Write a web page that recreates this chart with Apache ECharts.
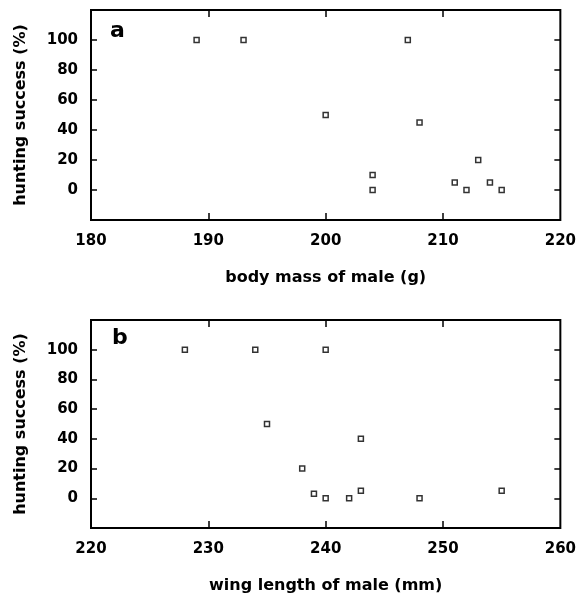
<!DOCTYPE html>
<html>
<head>
<meta charset="utf-8">
<script src="https://cdn.jsdelivr.net/npm/echarts@6/dist/echarts.min.js"></script>
<style>
  html, body { margin: 0; padding: 0; background: #fff; }
  #chart { width: 579px; height: 595px; }
</style>
</head>
<body>
<div id="chart"></div>
<script>
// panel a: body mass vs hunting success
var massA    = [189, 193, 200, 204, 204, 207, 208, 211, 212, 213, 214, 215];
var successA = [100, 100,  50,  10,   0, 100,  45,   5,   0,  20,   5,   0];
// panel b: wing length vs hunting success
var wingB    = [228, 234, 235, 238, 239, 240, 240, 242, 243, 243, 248, 255];
var successB = [100, 100,  50,  20,   3,   0, 100,   0,   5,  40,   0,   5];

var xTicksA = [180, 220, 10];   // min, max, step
var xTicksB = [220, 260, 10];
var yTicks  = [-20, 120, 20];
// inner tick marks (edges are drawn by the frame)
var xInnerA = [190, 200, 210];
var xInnerB = [230, 240, 250];
var yInner  = [0, 20, 40, 60, 80, 100];

var FONT = 'DejaVu Sans';

function pairs(xs, ys) {
    return xs.map(function (x, i) { return [x, ys[i]]; });
}

var chart = echarts.init(document.getElementById('chart'));

function xAxisCfg(grid, t, inner, pos, name) {
    return {
        type: 'value',
        gridIndex: grid,
        position: pos,
        min: t[0], max: t[1], interval: t[2],
        name: name,
        nameLocation: 'middle',
        nameGap: 50,
        nameTextStyle: { fontFamily: FONT, fontWeight: 'bold', fontSize: 16, color: '#000' },
        axisLine: { show: false, onZero: false },
        axisTick: { show: true, inside: true, length: 7, customValues: inner, lineStyle: { color: '#000', width: 1.5 } },
        axisLabel: {
            show: pos === 'bottom',
            margin: 14,
            fontFamily: FONT, fontWeight: 'bold', fontSize: 15, color: '#000',
            showMinLabel: true, showMaxLabel: true
        },
        splitLine: { show: false }
    };
}

function yAxisCfg(grid, pos, name) {
    return {
        type: 'value',
        gridIndex: grid,
        position: pos,
        min: yTicks[0], max: yTicks[1], interval: yTicks[2],
        name: name,
        nameLocation: 'middle',
        nameGap: 62,
        nameTextStyle: { fontFamily: FONT, fontWeight: 'bold', fontSize: 16, color: '#000' },
        axisLine: { show: false, onZero: false },
        axisTick: { show: true, inside: true, length: 6, customValues: yInner, lineStyle: { color: '#000', width: 1.5 } },
        axisLabel: {
            show: pos === 'left',
            margin: 13,
            fontFamily: FONT, fontWeight: 'bold', fontSize: 15, color: '#000',
            formatter: function (v) { return (v < 0 || v > 100) ? '' : v; }
        },
        splitLine: { show: false }
    };
}

function scatter(xi, yi, data) {
    return {
        type: 'scatter',
        xAxisIndex: xi,
        yAxisIndex: yi,
        symbol: 'rect',
        symbolSize: 5,
        itemStyle: { color: '#fff', borderColor: '#000', borderWidth: 1.5 },
        data: data,
        silent: true
    };
}

chart.setOption({
    animation: false,
    backgroundColor: '#fff',
    grid: [
        { left: 91, top: 10, width: 470, height: 210, show: true, borderColor: '#000', borderWidth: 2 },
        { left: 91, top: 320, width: 470, height: 210, show: true, borderColor: '#000', borderWidth: 2 }
    ],
    xAxis: [
        xAxisCfg(0, xTicksA, xInnerA, 'bottom', 'body mass of male (g)'),
        xAxisCfg(0, xTicksA, xInnerA, 'top', ''),
        xAxisCfg(1, xTicksB, xInnerB, 'bottom', 'wing length of male (mm)'),
        xAxisCfg(1, xTicksB, xInnerB, 'top', '')
    ],
    yAxis: [
        yAxisCfg(0, 'left', 'hunting success (%)'),
        yAxisCfg(0, 'right', ''),
        yAxisCfg(1, 'left', 'hunting success (%)'),
        yAxisCfg(1, 'right', '')
    ],
    graphic: [
        { type: 'text', left: 110, top: 20, style: { text: 'a', font: 'bold 22px "DejaVu Sans"', fill: '#000' } },
        { type: 'text', left: 112, top: 327, style: { text: 'b', font: 'bold 22px "DejaVu Sans"', fill: '#000' } }
    ],
    series: [
        scatter(0, 0, pairs(massA, successA)),
        scatter(2, 2, pairs(wingB, successB))
    ]
});
</script>
</body>
</html>
